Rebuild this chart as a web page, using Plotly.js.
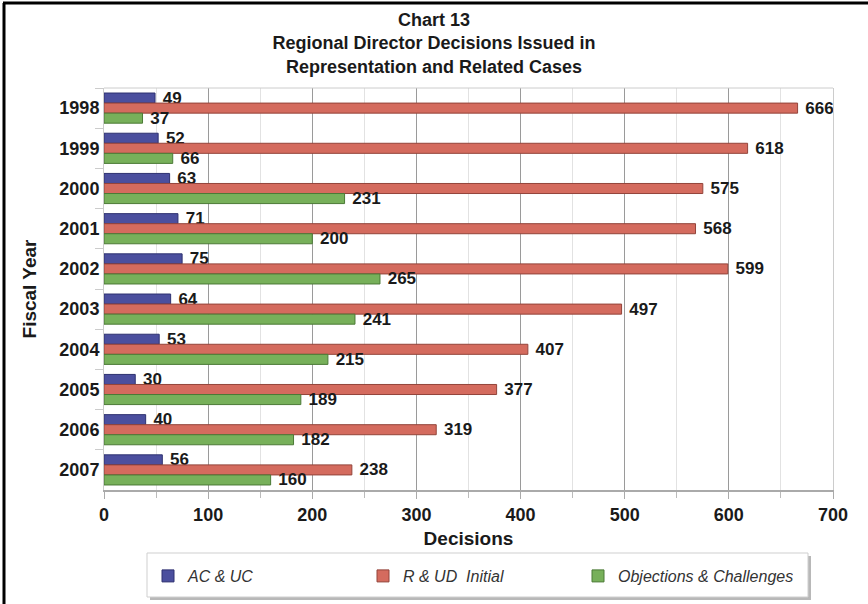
<!DOCTYPE html>
<html>
<head>
<meta charset="utf-8">
<script src="https://cdn.plot.ly/plotly-3.0.1.min.js"></script>
<style>
  html, body { margin: 0; padding: 0; background: #fff; }
  #chart { width: 868px; height: 604px; }
</style>
</head>
<body>
<div id="chart"></div>
<script>
// Fiscal years and decision counts by case type
const years = ['1998', '1999', '2000', '2001', '2002', '2003', '2004', '2005', '2006', '2007'];
const acUc = [49, 52, 63, 71, 75, 64, 53, 30, 40, 56];
const rUdInitial = [666, 618, 575, 568, 599, 497, 407, 377, 319, 238];
const objections = [37, 66, 231, 200, 265, 241, 215, 189, 182, 160];
const seriesNames = ['AC & UC', 'R & UD  Initial', 'Objections & Challenges'];
const xTicks = [0, 100, 200, 300, 400, 500, 600, 700];

const W = 868, H = 604;
const M = { l: 104, r: 35, t: 88, b: 114 };
const PW = W - M.l - M.r, PH = H - M.t - M.b;
// pixel -> paper helpers for decorative shapes
const px = x => (x - M.l) / PW;
const py = y => (H - M.b - y) / PH;

const FAMILY = 'Arial, Liberation Sans, sans-serif';

function barTrace(name, values, fill, edge) {
  return {
    type: 'bar',
    orientation: 'h',
    name: name,
    y: years,
    x: values,
    marker: { color: fill, line: { color: edge, width: 1 } },
    // leading space keeps the value label a little clear of the bar end
    texttemplate: ' %{x}',
    textposition: 'outside',
    constraintext: 'none',
    cliponaxis: false,
    textfont: { family: FAMILY, size: 17, color: '#1a1a1a', weight: 'bold' },
    hoverinfo: 'x+name'
  };
}

const data = [
  barTrace(seriesNames[0], acUc, '#4b4f9e', '#2e3170'),
  barTrace(seriesNames[1], rUdInitial, '#d46b5e', '#93443a'),
  barTrace(seriesNames[2], objections, '#77b05a', '#4b7a36')
];

const tickFont = { family: FAMILY, size: 18, color: '#1a1a1a', weight: 'bold' };
const axisTitleFont = { family: FAMILY, size: 19, color: '#1a1a1a', weight: 'bold' };

const layout = {
  width: W,
  height: H,
  margin: M,
  paper_bgcolor: '#fff',
  plot_bgcolor: '#fff',
  barmode: 'group',
  bargap: 0.25,
  bargroupgap: 0,
  showlegend: true,
  title: {
    text: 'Chart 13<br>Regional Director Decisions Issued in<br>Representation and Related Cases',
    font: { family: FAMILY, size: 18, color: '#1a1a1a', weight: 'bold' },
    x: 0.5, xref: 'container', xanchor: 'center',
    y: 1 - 26 / H, yref: 'container', yanchor: 'middle'
  },
  xaxis: {
    range: [0, 700],
    tickvals: xTicks,
    ticktext: xTicks.map(String),
    tickfont: tickFont,
    ticks: 'outside',
    ticklen: 7,
    tickcolor: '#aaa',
    showgrid: true,
    gridcolor: '#9a9a9a',
    gridwidth: 1,
    minor: { dtick: 50, showgrid: true, gridcolor: '#e2e2e2', ticks: 'outside', ticklen: 6, tickcolor: '#bbb' },
    zeroline: false,
    showline: true,
    linecolor: '#aaa',
    linewidth: 2,
    automargin: false,
    title: { text: 'Decisions', font: axisTitleFont, standoff: 8 },
    fixedrange: true
  },
  yaxis: {
    type: 'category',
    autorange: 'reversed',
    tickfont: tickFont,
    ticks: 'outside',
    tickson: 'boundaries',
    ticklen: 8,
    tickcolor: '#ccc',
    showgrid: false,
    showline: true,
    linecolor: '#ccc',
    linewidth: 1,
    mirror: true,
    automargin: false,
    title: { text: 'Fiscal Year', font: axisTitleFont, standoff: 17 },
    fixedrange: true
  },
  legend: {
    orientation: 'h',
    xref: 'container', yref: 'container',
    x: 148 / W, xanchor: 'left',
    y: 1 - 559 / H, yanchor: 'top',
    bgcolor: 'rgba(0,0,0,0)',
    borderwidth: 0,
    entrywidth: 170,
    entrywidthmode: 'pixels',
    font: { family: FAMILY, size: 16, color: '#333', style: 'italic' },
    traceorder: 'normal'
  },
  shapes: [
    // top border of the plot area
    { type: 'line', xref: 'paper', yref: 'paper', x0: 0, x1: 1, y0: 1, y1: 1, line: { color: '#ccc', width: 1 } },
    // legend shadow and box
    { type: 'rect', xref: 'paper', yref: 'paper', x0: px(150), x1: px(811), y0: py(556), y1: py(600), fillcolor: '#9a9a9a', line: { width: 0 }, layer: 'below', opacity: 0.7 },
    { type: 'rect', xref: 'paper', yref: 'paper', x0: px(147), x1: px(808), y0: py(553), y1: py(597), fillcolor: '#fff', line: { color: '#cfcfcf', width: 1 }, layer: 'below' },
    // outer frame lines
    { type: 'line', xref: 'paper', yref: 'paper', x0: px(3), x1: px(868), y0: py(3), y1: py(3), line: { color: '#000', width: 3 } },
    { type: 'line', xref: 'paper', yref: 'paper', x0: px(4), x1: px(4), y0: py(3), y1: py(604), line: { color: '#000', width: 3 } }
  ]
};

Plotly.newPlot('chart', data, layout, { displayModeBar: false, staticPlot: true });
</script>
</body>
</html>
